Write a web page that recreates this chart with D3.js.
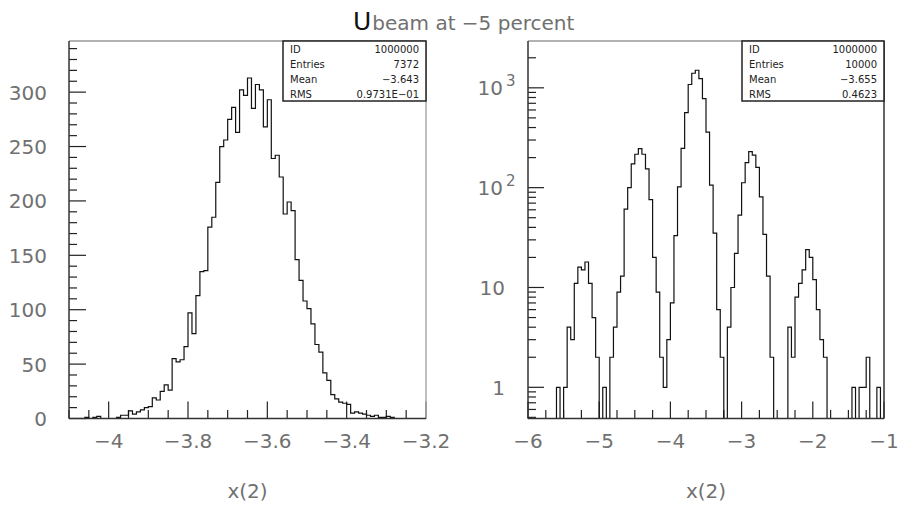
<!DOCTYPE html>
<html>
<head>
<meta charset="utf-8">
<script src="https://cdn.jsdelivr.net/npm/d3@7"></script>
<style>
  html, body { margin: 0; padding: 0; background: #fff; }
  svg { display: block; }
  .lbl { font-family: "DejaVu Sans ExtraLight", "DejaVu Sans", sans-serif; fill: #707070; }
  .stat { font-family: "DejaVu Sans", sans-serif; fill: #222; font-size: 10px; }
</style>
</head>
<body>
<svg id="chart" width="899" height="508"></svg>
<script>
// ---------------- data ----------------
const titleMain = "U";
const titleRest = "beam at \u22125 percent";
const xTitle = "x(2)";

// left histogram: 90 bins on [-4.1, -3.2]
const leftRange = [-4.1, -3.2];
const leftCounts = [
  0,0,0,0,1,0,1,2,0,0,
  0,0,1,3,3,7,4,6,8,10,
  11,19,17,25,31,26,55,52,54,66,
  97,78,113,135,136,176,185,217,250,256,
  275,286,263,302,297,313,285,307,302,268,
  293,239,242,222,188,199,191,146,127,108,
  101,87,68,61,42,35,22,18,15,14,
  13,5,6,5,4,3,2,3,1,1,
  2,1,0,0,0,0,0,0,0,0
];
const leftYMax = 347;
const leftXTicks = [-4, -3.8, -3.6, -3.4, -3.2];
const leftYTicks = [0, 50, 100, 150, 200, 250, 300];
const leftStats = [["ID", "1000000"], ["Entries", "7372"], ["Mean", "\u22123.643"], ["RMS", "0.9731E\u221201"]];

// right histogram: 100 bins on [-6, -1], log y
const rightRange = [-6, -1];
const rightCounts = [
  0,0,0,0,0,0,0,0,1,0,
  1,4,3,11,16,15,18,11,5,2,
  0,1,0,2,4,9,13,61,100,173,
  216,246,216,154,76,20,9,2,1,3,
  7,33,102,248,565,1080,1400,1500,1235,780,
  360,106,35,6,2,0,4,10,22,53,
  112,178,230,212,160,81,34,13,2,0,
  0,0,0,4,2,8,11,15,24,20,
  12,6,3,2,0,0,0,0,0,0,
  0,1,0,1,1,2,0,0,1,0
];
const rightYRange = [0.487, 2945];
const rightXTicks = [-6, -5, -4, -3, -2, -1];
const rightYTicks = [1, 10, 100, 1000];
const rightStats = [["ID", "1000000"], ["Entries", "10000"], ["Mean", "\u22123.655"], ["RMS", "0.4623"]];

// ---------------- drawing ----------------
const svg = d3.select("#chart");
const minus = s => String(s).replace("-", "\u2212");

const plotTop = 41, plotBottom = 418.5;

function histPath(g, counts, range, x, y) {
  const n = counts.length, w = (range[1] - range[0]) / n;
  const base = y.domain()[0];
  const pts = [[x(range[0]), y(base)]];
  counts.forEach((c, i) => {
    const lo = range[0] + i * w, hi = lo + w;
    pts.push([x(lo), y(c)]);
    pts.push([x(hi), y(c)]);
  });
  pts.push([x(range[1]), y(base)]);
  g.append("path")
    .attr("d", d3.line()(pts))
    .attr("fill", "none")
    .attr("stroke", "#111")
    .attr("stroke-width", 1.2);
}

function frame(g, x0, x1, rightColor) {
  g.append("line").attr("x1", x0).attr("x2", x1).attr("y1", plotTop).attr("y2", plotTop)
    .attr("stroke", "#999").attr("stroke-width", 1.5);
  g.append("line").attr("x1", x1).attr("x2", x1).attr("y1", plotTop).attr("y2", plotBottom)
    .attr("stroke", rightColor).attr("stroke-width", 1.5);
  g.append("line").attr("x1", x0).attr("x2", x0).attr("y1", plotTop).attr("y2", plotBottom)
    .attr("stroke", "#333").attr("stroke-width", 1.5);
  g.append("line").attr("x1", x0).attr("x2", x1).attr("y1", plotBottom).attr("y2", plotBottom)
    .attr("stroke", "#333").attr("stroke-width", 1.5);
}

function statBox(g, x0, x1, stats) {
  g.append("rect").attr("x", x0).attr("y", plotTop).attr("width", x1 - x0).attr("height", 60)
    .attr("fill", "#fff").attr("stroke", "#222").attr("stroke-width", 1.5);
  stats.forEach((s, i) => {
    const yy = 53 + i * 15;
    g.append("text").attr("class", "stat").attr("x", x0 + 7).attr("y", yy).text(s[0]);
    g.append("text").attr("class", "stat").attr("x", x1 - 7).attr("y", yy)
      .attr("text-anchor", "end").text(s[1]);
  });
}

// ---- left panel ----
{
  const g = svg.append("g");
  const x = d3.scaleLinear().domain(leftRange).range([69, 426]);
  const y = d3.scaleLinear().domain([0, leftYMax]).range([plotBottom, plotTop]);

  d3.range(0, leftYMax, 10).forEach(v => {
    const major = v % 50 === 0;
    g.append("line").attr("x1", 69).attr("x2", 69 + (major ? 17 : 8))
      .attr("y1", y(v)).attr("y2", y(v)).attr("stroke", "#222").attr("stroke-width", 1.2);
  });
  d3.range(0, 19).forEach(k => {
    const v = leftRange[0] + k * 0.05;
    const major = Math.abs(Math.round(v * 5) - v * 5) < 1e-6;
    g.append("line").attr("x1", x(v)).attr("x2", x(v))
      .attr("y1", plotBottom).attr("y2", plotBottom - (major ? 17 : 8.5))
      .attr("stroke", "#222").attr("stroke-width", 1.2);
  });

  histPath(g, leftCounts, leftRange, x, y);
  frame(g, 69, 426, "#aaa");
  statBox(g, 283, 426, leftStats);

  leftYTicks.forEach(v => {
    g.append("text").attr("class", "lbl").attr("x", 47).attr("y", y(v) + 7.5)
      .attr("text-anchor", "end").attr("font-size", 20).text(v);
  });
  leftXTicks.forEach(v => {
    g.append("text").attr("class", "lbl").attr("x", x(v)).attr("y", 448)
      .attr("text-anchor", "middle").attr("font-size", 20).text(minus(v));
  });
  g.append("text").attr("class", "lbl").attr("x", (69 + 426) / 2).attr("y", 498)
    .attr("text-anchor", "middle").attr("font-size", 20).text(xTitle);
}

// ---- right panel ----
{
  const g = svg.append("g");
  const x = d3.scaleLinear().domain(rightRange).range([528, 884]);
  const y = d3.scaleLog().domain(rightYRange).range([plotBottom, plotTop]).clamp(true);

  [0.1, 1, 10, 100, 1000].forEach(dec => {
    d3.range(1, 10).forEach(m => {
      const v = dec * m;
      if (v < rightYRange[0] || v > rightYRange[1]) return;
      const major = m === 1;
      g.append("line").attr("x1", 528).attr("x2", 528 + (major ? 16 : 8))
        .attr("y1", y(v)).attr("y2", y(v)).attr("stroke", "#222").attr("stroke-width", 1.2);
    });
  });
  d3.range(0, 21).forEach(k => {
    const v = rightRange[0] + k * 0.25;
    const major = k % 4 === 0;
    g.append("line").attr("x1", x(v)).attr("x2", x(v))
      .attr("y1", plotBottom).attr("y2", plotBottom - (major ? 17 : 8.5))
      .attr("stroke", "#222").attr("stroke-width", 1.2);
  });

  histPath(g, rightCounts, rightRange, x, y);
  frame(g, 528, 884, "#333");
  statBox(g, 742, 884, rightStats);

  rightYTicks.forEach(v => {
    const e = Math.round(Math.log10(v));
    if (e < 2) {
      g.append("text").attr("class", "lbl").attr("x", 505).attr("y", y(v) + 7.5)
        .attr("text-anchor", "end").attr("font-size", 20).text(v);
    } else {
      g.append("text").attr("class", "lbl").attr("x", 503).attr("y", y(v) + 7.5)
        .attr("text-anchor", "end").attr("font-size", 20).text("10");
      g.append("text").attr("class", "lbl").attr("x", 506).attr("y", y(v) - 2)
        .attr("font-size", 15).text(e);
    }
  });
  rightXTicks.forEach(v => {
    g.append("text").attr("class", "lbl").attr("x", x(v)).attr("y", 448)
      .attr("text-anchor", "middle").attr("font-size", 20).text(minus(v));
  });
  g.append("text").attr("class", "lbl").attr("x", (528 + 884) / 2).attr("y", 498)
    .attr("text-anchor", "middle").attr("font-size", 20).text(xTitle);
}

// ---- title ----
const t = svg.append("text").attr("x", 353).attr("y", 30);
t.append("tspan").attr("font-family", "DejaVu Sans, sans-serif").attr("font-size", 25)
  .attr("fill", "#111").text(titleMain);
t.append("tspan").attr("class", "lbl").attr("font-size", 20).attr("dx", 1).text(titleRest);
</script>
</body>
</html>
